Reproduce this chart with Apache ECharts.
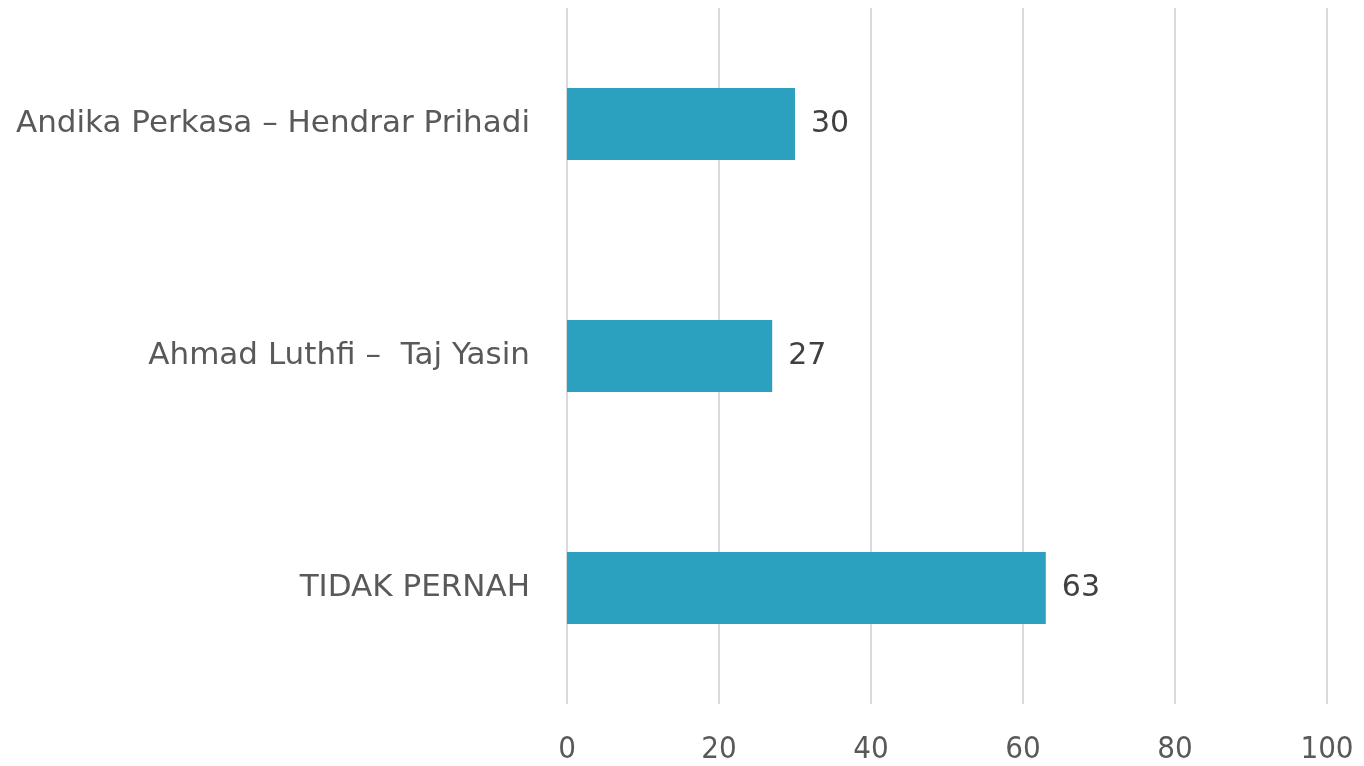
<!DOCTYPE html>
<html>
<head>
<meta charset="utf-8">
<script src="https://cdn.jsdelivr.net/npm/echarts@6/dist/echarts.min.js"></script>
<style>
  html, body { margin: 0; padding: 0; background: #fff; }
  #graph { width: 1364px; height: 766px; }
</style>
</head>
<body>
<div id="graph"></div>
<script>
const categories = ['Andika Perkasa – Hendrar Prihadi', 'Ahmad Luthfi –  Taj Yasin', 'TIDAK PERNAH']
const values = [30, 27, 63]
const xTicks = [0, 20, 40, 60, 80, 100]

const chart = echarts.init(document.getElementById('graph'))
const option = {
  animation: false,
  grid: { left: 567, right: 37, top: 8, bottom: 62 },
  xAxis: {
    type: 'value',
    min: xTicks[0],
    max: xTicks[xTicks.length - 1],
    interval: 20,
    axisLine: { show: false },
    axisTick: { show: false },
    splitLine: { show: true, lineStyle: { color: '#d9d9d9', width: 2 } },
    axisLabel: {
      margin: 30,
      color: '#595959',
      fontFamily: '"DejaVu Sans Condensed", "Liberation Sans", sans-serif',
      fontSize: 31
    }
  },
  yAxis: {
    type: 'category',
    inverse: true,
    data: categories,
    axisLine: { show: false },
    axisTick: { show: false },
    axisLabel: {
      margin: 37,
      color: '#595959',
      fontFamily: 'DejaVu Sans',
      fontSize: 31
    }
  },
  series: [{
    type: 'bar',
    data: values,
    barWidth: 72,
    itemStyle: { color: '#2ca1bf' },
    label: {
      show: true,
      position: 'right',
      distance: 16,
      color: '#404040',
      fontFamily: 'DejaVu Sans',
      fontSize: 30
    }
  }]
}
chart.setOption(option)
</script>
</body>
</html>
